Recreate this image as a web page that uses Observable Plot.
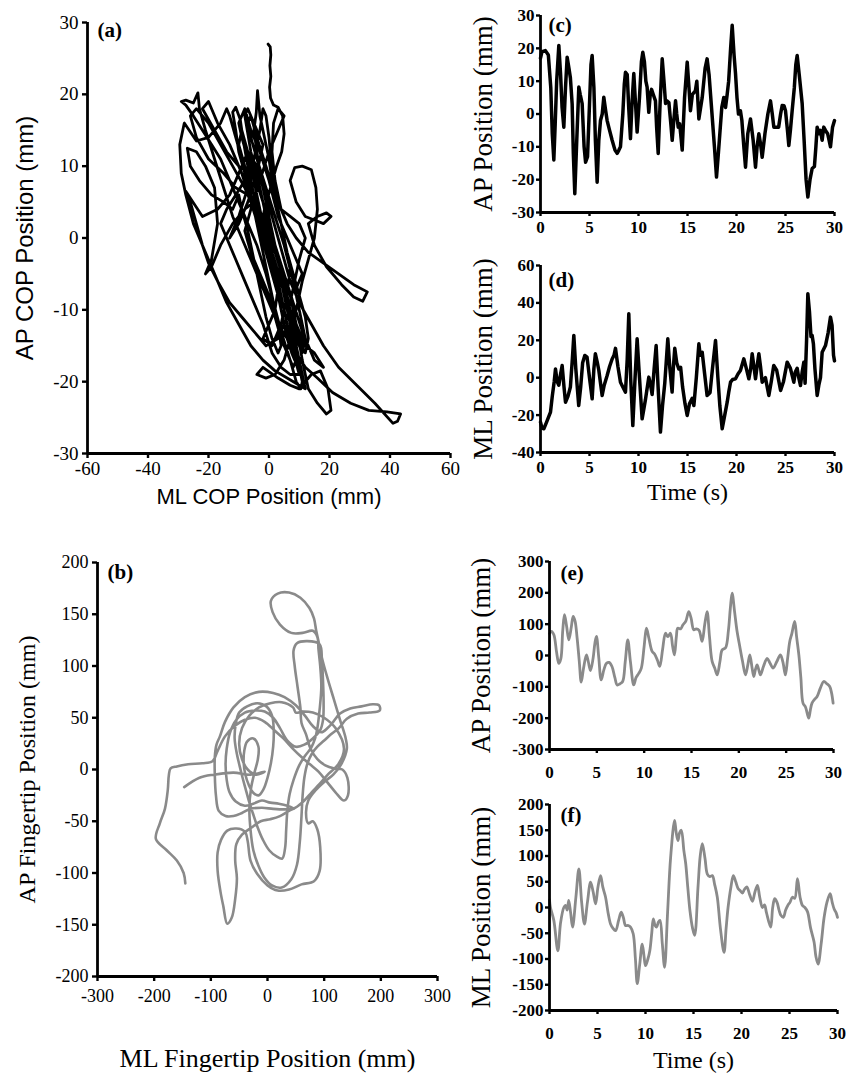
<!DOCTYPE html>
<html><head><meta charset="utf-8">
<script src="https://cdn.jsdelivr.net/npm/d3@7"></script>
<script src="https://cdn.jsdelivr.net/npm/@observablehq/plot@0.6"></script>
<style>
body{margin:0;background:#fff;}
#fig{position:relative;width:859px;height:1085px;background:#fff;overflow:hidden}
</style></head><body><div id="fig"></div>
<script>
// ---------- DATA ----------
// (a) COP trajectory [ML, AP] in mm
const copPath = [
[-0.3,27],[0.4,26.6],[0.6,25.5],[0.3,24],[0.6,22.5],[0.2,21],[0.5,19.5],[1.5,18.5],[3,18.2],[4.5,17],[5,14.5],[4.2,12],[2.5,10],[0.5,7],[-1.5,4],[-2.8,1],[-1,-2],[1,-5],[3,-8],[4.5,-11],[6,-14],[7.5,-16],[8.5,-17],
[7,-14],[5,-10],[2.5,-6],[0.5,-3],[-2,0],[-4,3],[-6,6],[-8,9],[-10,12],[-11,15],[-12,17.5],[-11,18.2],[-9.5,16.5],[-8.5,13.5],[-7,10],[-5,6],[-3,2],[0,-1],[2,-4],[4,-8],[6,-12],[8,-15],[10,-18],[11,-20],[10.5,-21],[9,-20],[7,-17],[4,-13],[1.5,-9],[-1,-5],[-4,-1],[-7,2],[-10,5],[-13,8],[-16,11],[-19,13],[-22,15],[-25,17],[-27.5,18.5],[-29,19],[-27.5,19.2],[-25,18.8],[-23.5,20.2],[-23,18],[-21,15],[-18,11],[-15,7],[-12,3],[-9,0],[-6,-3],[-3,-6],[0,-9],[3,-12],[6,-14],[9,-16],[12,-18],[16,-19.5],[21,-21.5],[27,-23],[33,-24],[39,-24.2],[43.5,-24.5],[42.5,-25.5],[41,-25.8],[35,-23],[29,-20.5],[23,-18],[18,-15],[14,-12],[10,-9],[7,-6],[5,-3],[3,0],[1,3],[-1,6],[-3,9],[-4,12],[-5,15],[-4.2,17.5],[-3.8,20.5],[-3,17],[-1.5,14],[0,11],[1,8],[3,5],[6,2],[9,0],[13,-2],[18,-3.5],[23,-5],[28,-6.5],[32.5,-7.5],[31,-8.8],[28,-8.2],[24,-6.5],[19,-4],[15,-1],[13,2],[16,3],[19,3.5],[20.5,3],[18,2],[15,2.5],[12,3],[9,5],[7,8],[8.5,9.8],[11,10],[14,9.5],[15.5,7],[16,4],[15,0],[13,-3],[11,-6],[9,-10],[7,-14],[5,-17],[2,-19],[-1,-19.5],[-4,-19],[-2,-18],[3,-19.5],[7,-20.5],[10,-21],[14,-19],[17,-18.5],[19.5,-21],[20.5,-24],[19,-24.5],[16,-23],[13,-21],[11,-17],[9,-12],[7,-8],[4,-4],[1,0],[-2,3],[-5,5],[-8,4],[-12,2],[-16,-1],[-19,-4],[-21,-5],[-19,-3],[-17,2],[-18,7],[-21,10],[-24,12],[-27,12.5],[-26,10],[-23,8],[-19,6],[-15,5],[-12,4],[-10,6],[-9,4],[-7,1],[-5,-3],[-3,-7],[-1,-11],[1,-14],[3,-16],[4,-15],[3,-12],[1,-8],[-1,-4],[-3,0],[-5,4],[-7,8],[-9,11],[-11,14],[-13,17],[-14,18],[-16,16],[-20,14],[-24,13.5],[-28,16],[-29.5,13],[-29,9],[-27.5,6],[-25,2],[-22,-1],[-18,-5],[-14,-9],[-10,-12],[-6,-15],[-2,-17],[2,-18.5],[6,-19.5],[10,-20.5],[12,-21],[10,-17],[8,-13],[6,-9],[4,-5],[2,-1],[0,3],[-2,7],[-4,10],[-7,12],[-10,9],[-13,6],[-17,4],[-22,3],[-27.5,6.5],[-26,5],[-24,2],[-22,-1],[-20,-3.5],[-17,-6],[-13,-9],[-9,-11],[-5,-13],[-1,-15],[3,-14],[6,-11],[8,-7],[10,-3],[12,0],[10,2],[7,3],[4,4],[2,8],[1,12],[1.5,16],[3,18],[5,17],
[3,15],[0,12],[-3,8],[-6,4],[-8,1],[-6,-2],[-3,-5],[0,-8],[2,-11],[4,-14],[6,-16],[8,-18],[9,-17],[8,-14],[6,-10],[4,-6],[1,-2],[-2,2],[-5,6],[-8,10],[-10,13],[-9,15],[-7,12],[-5,9],[-2,5],[1,1],[3,-3],[5,-7],[7,-11],[9,-14],[11,-16],[12,-14],[10,-10],[8,-6],[5,-1],[2,3],[-1,7],[-4,11],[-6,14],[-7,16],[-6,17],[-4,14],[-1,10],[2,6],[4,2],[6,-2],[8,-5],[10,-8],[12,-11],[13,-14],[12,-16],[10,-14],[7,-10],[5,-6],[2,-2],[-1,1],[-4,4],[-7,6],[-11,7],[-15,9],[-20,11],[-24,14],[-26,17],[-24,18],[-20,16],[-16,13],[-12,10],[-8,7],[-4,3],[0,-1],[3,-5],[6,-9],[9,-12],[12,-15],[15,-16],[18,-18],[15,-17],[11,-13],[8,-9],[5,-5],[2,-1],[-1,3],[-3,7],[-6,12],[-8,17],[-7,18],[-5,16],[-2,13],
[-4,9],[-7,5],[-10,2],[-13,0],[-10,3],[-7,7],[-10,10],[-14,12],[-18,15],[-22,18],[-20,19],[-17,16],[-13,13],[-9,9],[-6,5],[-3,1],[0,-3],[3,-7],[2,-10],[0,-12],[-2,-14],[1,-15],[4,-12],[6,-8],[7,-4],[5,0],[3,4],[1,9],[0,14],[-1,17],[-2,18],[-3,15],[-5,11],[-8,8],[-11,6],[-14,4],[-16,2],[-14,0],[-11,-3],[-8,-6],[-5,-9],[-2,-12],[1,-16],[4,-18],[7,-19],[10,-19],[8,-16],[5,-12],[3,-8],[1,-4],[-1,0],[-3,4],[-5,8],[-7,11],[-9,14],[-10,16],[-8,18],[-6,15],[-3,12],[0,8],[3,3],[6,0],[9,-3],[11,-5],[9,-7]
];
// (b) fingertip trajectory [ML, AP] in mm
const fingerPath = [
[-145,-110],[-148,-100],[-160,-88],[-178,-78],[-197,-67],[-190,-52],[-181,-38],[-176,-20],[-174,-5],[-171,1],[-160,3],[-140,5],[-115,6],[-97,8],[-88,18],[-75,32],[-58,42],[-40,48],[-22,50],[-5,46],[12,38],[28,30],[45,20],[60,12],[75,5],[90,-2],[105,-12],[120,-22],[135,-30],[142,-25],[141,-8],[132,0],[118,1],[102,4],[88,10],[76,20],[68,34],[60,45],[58,60],[53,80],[48,100],[46,115],[52,122],[70,124],[92,121],[96,105],[98,85],[99,65],[98,48],[93,38],[80,30],[65,24],[50,22],[35,28],[22,40],[10,50],[-5,56],[-22,57],[-40,55],[-55,48],[-66,36],[-72,20],[-74,5],[-72,-10],[-67,-22],[-56,-31],[-40,-35],[-25,-33],[-10,-30],[5,-32],[20,-33],[35,-35],[47,-38],[30,-38.5],[10,-38],[-10,-37],[-30,-38],[-45,-42],[-60,-45],[-74,-45],[-86,-40],[-91,-25],[-93,-5],[-93,12],[-90,24],[-84,32],[-75,46],[-60,60],[-40,70],[-15,75],[10,74],[30,70],[50,62],[66,52],[80,42],[95,36],[106,40],[116,46],[128,54],[146,59],[166,61],[186,63],[197,62],[198,57],[180,55],[160,54],[140,49],[126,40],[112,34],[100,28],[88,22],[78,15],[70,5],[65,-8],[62,-25],[60,-45],[57,-70],[52,-92],[42,-106],[25,-114],[8,-112],[-6,-104],[-16,-93],[-25,-78],[-30,-58],[-32,-38],[-29,-18],[-23,-3],[-17,10],[-16,22],[-25,30],[-36,27],[-41,18],[-42,6],[-39,-5],[-33,-15],[-26,-22],[-16,-25],[-7,-19],[0,-8],[6,6],[10,22],[11,38],[8,52],[-2,61],[-18,64],[-36,61],[-50,55],[-56,44],[-58,30],[-54,15],[-49,3],[-44,-8],[-39,-18],[-33,-30],[-26,-42],[-18,-55],[-8,-68],[3,-78],[16,-84],[26,-86],[31,-76],[33,-58],[35,-40],[39,-24],[46,-10],[56,4],[66,13],[77,21],[84,30],[88,40],[92,58],[95,80],[93,100],[90,116],[88,128],[80,134],[62,132],[42,132],[22,140],[9,152],[6,163],[18,170],[38,171],[58,166],[74,156],[82,146],[86,134],[90,124],[96,108],[106,88],[117,68],[128,48],[138,30],[140,20],[130,5],[116,-5],[100,-12],[85,-20],[72,-30],[68,-42],[72,-52],[80,-50],[88,-58],[93,-75],[92,-98],[82,-108],[60,-111],[38,-116],[18,-117],[0,-112],[-18,-101],[-30,-88],[-35,-69],[-40,-60],[-55,-57],[-71,-59],[-82,-68],[-88,-80],[-88,-98],[-83,-118],[-78,-132],[-71,-149],[-63,-143],[-57,-125],[-54,-105],[-57,-88],[-55,-72],[-45,-63],[-28,-56],[-12,-50],[5,-48],[22,-45],[38,-40],[52,-36],[65,-30],[78,-22],[92,-14],[108,-4],[125,5],[135,20],[120,40],[100,50],[80,55],[62,56],[50,55],[45,60],[25,65],[5,64],[-15,60],[-32,52],[-45,40],[-50,25],[-45,10],[-35,0],[-20,-5],[-5,-2],[-30,-5],[-60,-3],[-95,-5],[-120,-8],[-147,-17]
];
// (c) AP COP position vs time [s, mm]
const apCop = [[0,17],[0.15,19],[0.5,19.3],[0.8,18],[1.05,8],[1.2,-6],[1.36,-14],[1.5,-3],[1.65,10],[1.87,20.9],[2.05,12],[2.2,2],[2.38,-4],[2.55,8],[2.72,17.3],[2.9,14],[3.05,11],[3.23,3],[3.35,-12],[3.5,-24.3],[3.7,-8],[3.91,8.2],[4.05,6],[4.25,3.2],[4.45,-10],[4.6,-14.7],[4.8,-13],[5.0,3],[5.15,15],[5.27,17.8],[5.45,8],[5.6,-8],[5.78,-20.8],[5.95,-8],[6.12,-2],[6.3,0],[6.46,5.1],[6.65,1],[6.8,-2],[7.05,-5],[7.31,-8],[7.6,-11],[7.82,-12],[8.0,-11],[8.16,-10],[8.4,0],[8.55,9],[8.67,12.7],[8.85,12],[9.0,2],[9.18,-7.5],[9.35,4],[9.52,12.3],[9.7,3],[9.86,-5.5],[10.1,5],[10.3,16],[10.44,18.8],[10.6,16],[10.75,10],[10.88,8.2],[11.05,0.5],[11.2,6],[11.33,7.5],[11.5,6],[11.73,4],[11.85,-4],[12.01,-12],[12.2,3],[12.42,16.8],[12.6,10],[12.76,3.2],[12.9,4],[13.1,3.5],[13.3,-3],[13.44,-8],[13.6,-2],[13.78,4],[13.9,0],[14.05,-4],[14.2,-3],[14.3,-6],[14.46,-11],[14.7,5],[14.97,15.8],[15.15,8],[15.3,1],[15.5,6],[15.8,7],[15.95,10],[16.16,-1.5],[16.5,5],[16.8,14],[17.0,16.8],[17.2,12],[17.5,0],[17.75,-10],[17.96,-19.2],[18.15,-12],[18.3,-6],[18.5,2],[18.7,5],[18.88,2],[19.05,6],[19.2,10],[19.4,20],[19.56,27],[19.75,18],[19.9,12.3],[20.05,5],[20.2,0],[20.4,1],[20.55,-2],[20.75,-10],[20.92,-16.2],[21.15,-6],[21.43,-1.5],[21.7,-8],[21.94,-16.2],[22.1,-10],[22.28,-6],[22.45,-9],[22.62,-13.2],[22.9,-6],[23.2,0],[23.47,4],[23.65,0],[23.81,-4],[24.05,-4],[24.3,-4],[24.5,0],[24.66,2.6],[24.85,2.5],[25.0,1],[25.2,-5],[25.34,-9.6],[25.5,-5],[25.68,1],[25.9,8],[26.05,15],[26.19,17.8],[26.4,12],[26.7,3.2],[26.9,-8],[27.1,-20],[27.28,-25.3],[27.5,-20],[27.72,-16.6],[27.95,-16],[28.1,-10],[28.23,-4],[28.4,-6],[28.55,-5],[28.74,-8],[28.9,-4],[29.08,-5],[29.3,-6],[29.45,-8],[29.59,-10],[29.8,-4],[30,-2]];
// (d) ML COP position vs time
const mlCop = [[0,-23.8],[0.15,-27],[0.34,-27.3],[0.6,-24],[1.02,-18.4],[1.2,-10],[1.4,-2],[1.53,4.7],[1.7,-2],[1.87,-4],[2.05,2],[2.21,6.5],[2.4,-5],[2.55,-13.1],[2.8,-10],[3.05,-5],[3.25,10],[3.4,22.6],[3.6,5],[3.9,-14.9],[4.1,-5],[4.3,8],[4.52,11.9],[4.75,11],[5.0,0],[5.27,-11.3],[5.45,5],[5.6,12.8],[5.8,8],[5.95,4],[6.1,-2],[6.29,-9.5],[6.5,-4],[6.8,1.2],[7.05,6],[7.31,10],[7.5,12],[7.65,15.7],[7.9,6],[8.16,-2.4],[8.4,-5],[8.67,-7.7],[8.85,10],[9.01,34.2],[9.2,0],[9.42,-25.6],[9.65,0],[9.86,20.8],[10.1,0],[10.37,-22],[10.7,-12],[11.05,0.3],[11.2,-3],[11.39,-9],[11.6,5],[11.8,17.2],[12.0,-5],[12.24,-29.1],[12.45,-15],[12.68,-3],[12.85,10],[12.99,20.8],[13.2,5],[13.43,-7.7],[13.55,5],[13.7,15.7],[13.9,8],[14.11,4.7],[14.3,5.5],[14.5,-5],[14.75,-14],[14.97,-20.2],[15.2,-14],[15.48,-11],[15.65,-14.9],[15.9,0],[16.16,18.1],[16.3,12],[16.5,13.6],[16.75,2],[17.0,-9.5],[17.3,-8],[17.55,5],[17.86,19.9],[18.1,0],[18.3,-15],[18.54,-27.3],[18.8,-20],[19.05,-13.1],[19.2,-8],[19.39,-2.4],[19.6,-1],[19.9,-0.6],[20.15,2],[20.4,3.9],[20.75,10.1],[21.0,5],[21.26,-0.6],[21.45,5],[21.6,12.8],[21.8,5],[21.94,-0.6],[22.1,6],[22.28,12.8],[22.45,6],[22.62,-2.4],[22.95,0],[23.3,-9.5],[23.55,-2],[23.8,6.5],[24.1,4],[24.5,-6.8],[24.8,-2],[25.17,8.3],[25.5,5],[25.85,-2.4],[26.0,3],[26.19,5],[26.35,0],[26.53,-4.2],[26.7,3],[26.87,8.3],[27.0,-3],[27.15,20],[27.28,44.9],[27.45,35],[27.6,22],[27.72,22.6],[27.85,18],[28.0,5],[28.23,-9.5],[28.4,-4],[28.57,0],[28.74,13.6],[29.08,17.2],[29.35,24],[29.59,32.4],[29.75,28],[29.9,12],[30,9]];
// (e) AP fingertip position vs time
const apFinger = [[0,70],[0.2,77],[0.46,66],[0.75,10],[0.98,-25],[1.2,-10],[1.4,80],[1.58,130],[1.8,95],[2.04,50],[2.3,90],[2.5,125],[2.7,110],[2.92,55],[3.15,-20],[3.35,-85],[3.6,-40],[3.9,2],[4.1,-20],[4.33,-48],[4.6,-10],[4.8,40],[4.96,61],[5.2,-5],[5.46,-78],[5.75,-45],[6.02,-25],[6.3,-22],[6.6,-35],[6.9,-70],[7.15,-94],[7.45,-90],[7.73,-83],[8.0,-20],[8.27,50],[8.55,-20],[8.9,-94],[9.15,-70],[9.43,-57],[9.7,-40],[10.0,30],[10.24,87],[10.5,55],[10.84,13],[11.1,5],[11.4,-15],[11.65,-35],[11.95,20],[12.25,71],[12.5,60],[12.78,71],[13.0,30],[13.2,2],[13.4,60],[13.55,87],[13.85,85],[14.1,98],[14.4,110],[14.71,140],[14.95,120],[15.24,82],[15.5,85],[15.8,80],[16.12,45],[16.4,100],[16.65,140],[16.9,60],[17.18,-19],[17.45,-40],[17.71,-62],[18.0,-20],[18.24,18],[18.6,25],[18.9,80],[19.1,150],[19.29,199],[19.55,140],[19.8,80],[20.1,29],[20.4,-20],[20.7,-62],[20.95,-30],[21.16,2],[21.4,-40],[21.58,-67],[21.75,-45],[21.93,-30],[22.1,-45],[22.28,-62],[22.6,-35],[22.99,-9],[23.3,-25],[23.62,-40],[24.0,-20],[24.39,2],[24.65,-20],[24.92,-62],[25.15,-10],[25.38,45],[25.6,70],[25.9,109],[26.1,60],[26.34,2],[26.55,-70],[26.78,-152],[27.05,-165],[27.38,-200],[27.55,-175],[27.73,-152],[28.0,-140],[28.27,-131],[28.6,-105],[28.97,-83],[29.3,-90],[29.6,-99],[29.8,-120],[29.96,-152]];
// (f) ML fingertip position vs time
const mlFinger = [[0,15],[0.1,0],[0.45,-25],[0.87,-84],[1.15,-30],[1.49,0],[1.67,4],[1.84,-5],[2.0,14],[2.2,-10],[2.4,-38],[2.75,20],[3.06,75],[3.35,10],[3.64,-32],[3.95,10],[4.28,49],[4.55,30],[4.8,7],[5.05,40],[5.32,62],[5.55,40],[5.84,20],[6.1,-10],[6.36,-32],[6.6,-40],[6.88,-45],[7.2,-25],[7.47,-9],[7.7,-20],[7.92,-35],[8.2,-35],[8.44,-38],[8.72,-51],[8.95,-100],[9.14,-148],[9.4,-110],[9.66,-71],[9.85,-95],[10.0,-113],[10.25,-100],[10.45,-84],[10.65,-50],[10.81,-22],[11.0,-35],[11.16,-38],[11.35,-28],[11.51,-25],[11.75,-70],[11.99,-116],[12.3,-10],[12.62,98],[13.03,169],[13.2,145],[13.38,130],[13.55,145],[13.73,150],[14.0,110],[14.19,85],[14.4,40],[14.63,-6],[14.9,-40],[15.12,-54],[15.47,40],[15.7,100],[15.92,124],[16.2,95],[16.44,65],[16.7,60],[16.96,62],[17.2,45],[17.48,20],[17.8,-40],[18.18,-87],[18.4,-40],[18.6,0],[18.9,40],[19.15,62],[19.4,50],[19.64,37],[19.85,33],[20.09,28],[20.3,35],[20.55,40],[20.85,25],[21.14,12],[21.4,30],[21.66,43],[21.9,20],[22.18,0],[22.4,5],[22.6,-10],[23.04,-38],[23.25,0],[23.46,17],[23.7,10],[23.91,-5],[24.1,-15],[24.36,-19],[24.6,-5],[24.85,5],[25.05,10],[25.3,20],[25.55,18],[25.83,56],[26.1,20],[26.35,4],[26.6,0],[26.87,-8],[27.2,-40],[27.56,-67],[27.75,-95],[27.98,-110],[28.3,-70],[28.6,-20],[28.9,10],[29.23,27],[29.45,10],[29.65,-3],[29.85,-10],[30,-19]];

// tick values
const ticksA_x = [-60,-40,-20,0,20,40,60];
const ticksA_y = [-30,-20,-10,0,10,20,30];
const ticksB_x = [-300,-200,-100,0,100,200,300];
const ticksB_y = [-200,-150,-100,-50,0,50,100,150,200];
const ticksTime = [0,5,10,15,20,25,30];
const ticksC_y = [-30,-20,-10,0,10,20,30];
const ticksD_y = [-40,-20,0,20,40,60];
const ticksE_y = [-300,-200,-100,0,100,200,300];
const ticksF_y = [-200,-150,-100,-50,0,50,100,150,200];

// ---------- DRAWING ----------
const SERIF = "'Liberation Serif','Times New Roman',serif";
const SANS = "'Liberation Sans',Arial,sans-serif";
const fig = document.getElementById("fig");

function panel(c) {
  const tf = {fontSize: c.tickSize, fontFamily: SERIF, fontWeight: c.tickWeight, fill: "#000"};
  const x0 = c.xDomain[0], y0 = c.yDomain[0];
  const marks = [
    Plot.line(c.data, {x: d => d[0], y: d => d[1], stroke: c.color, strokeWidth: c.sw, curve: c.curve || "linear", strokeLinejoin: "round", strokeLinecap: "round"}),
    Plot.ruleX([x0], {stroke: "#000", strokeWidth: 2.8}),
    Plot.ruleY([y0], {stroke: "#000", strokeWidth: 2.8}),
    Plot.axisX(c.xTicks, {anchor: "bottom", tickSize: c.tick, strokeWidth: 2.4, stroke: "#000", tickFormat: () => "", label: null}),
    Plot.axisY(c.yTicks, {anchor: "left", tickSize: c.tick, strokeWidth: 2.4, stroke: "#000", tickFormat: () => "", label: null}),
    Plot.text(c.xTicks, {x: d => d, y: () => y0, text: d => String(d), dy: c.xLabDy, lineAnchor: "middle", textAnchor: "middle", ...tf}),
    Plot.text(c.yTicks, {x: () => x0, y: d => d, text: d => String(d), dx: c.yLabDx, lineAnchor: "middle", textAnchor: "end", ...tf}),
    Plot.text([c.letter], {text: d => d, frameAnchor: "top-left", dx: c.letterDx, dy: c.letterDy, textAnchor: "start", lineAnchor: "middle", fontWeight: "bold", fontSize: c.letterSize, fontFamily: SERIF, fill: "#000"}),
    Plot.text([c.yLabel], {text: d => d, frameAnchor: "left", dx: c.yLabelDx, rotate: -90, textAnchor: "middle", lineAnchor: "middle", fontSize: c.yLabelSize, fontFamily: c.yLabelFont, fontWeight: "normal", fill: "#000"})
  ];
  if (c.xLabel) marks.push(Plot.text([c.xLabel], {text: d => d, frameAnchor: "bottom", dy: c.xLabelDy, textAnchor: "middle", lineAnchor: "middle", fontSize: c.xLabelSize, fontFamily: c.xLabelFont, fontWeight: "normal", fill: "#000"}));
  const svg = Plot.plot({
    width: c.width, height: c.height,
    marginLeft: c.m[0], marginTop: c.m[1], marginRight: c.m[2], marginBottom: c.m[3],
    x: {domain: c.xDomain}, y: {domain: c.yDomain},
    style: {fontFamily: SERIF, color: "#000", background: "transparent", overflow: "visible"},
    marks
  });
  svg.style.position = "absolute";
  svg.style.left = c.left + "px";
  svg.style.top = c.top + "px";
  fig.appendChild(svg);
}

// (a)
panel({left: 0, top: 0, width: 470, height: 520, m: [87, 22, 20, 67],
  xDomain: [-60, 60], yDomain: [-30, 30], xTicks: ticksA_x, yTicks: ticksA_y,
  data: copPath, color: "#000", sw: 2.8, tick: 5, xLabDy: 15, yLabDx: -9,
  letter: "(a)", letterDx: 10, letterDy: 8, letterSize: 21,
  yLabel: "AP COP Position (mm)", yLabelDx: -62, yLabelSize: 24, yLabelFont: SANS,
  xLabel: "ML COP Position (mm)", xLabelDy: 43, xLabelSize: 22, xLabelFont: SANS,
  tickSize: 19, tickWeight: "normal"});
// (c)
panel({left: 460, top: 0, width: 399, height: 250, m: [80, 15, 25, 38],
  xDomain: [0, 30], yDomain: [-30, 30], xTicks: ticksTime, yTicks: ticksC_y,
  data: apCop, color: "#000", sw: 3.5, tick: 4, xLabDy: 15, yLabDx: -6,
  letter: "(c)", letterDx: 8, letterDy: 10, letterSize: 21,
  yLabel: "AP Position (mm)", yLabelDx: -57, yLabelSize: 27, yLabelFont: SERIF,
  tickSize: 17, tickWeight: "bold"});
// (d)
panel({left: 460, top: 250, width: 399, height: 250, m: [80, 15, 25, 48],
  xDomain: [0, 30], yDomain: [-40, 60], xTicks: ticksTime, yTicks: ticksD_y,
  data: mlCop, color: "#000", sw: 3.5, tick: 4, xLabDy: 15, yLabDx: -6,
  letter: "(d)", letterDx: 8, letterDy: 15, letterSize: 21,
  yLabel: "ML Position (mm)", yLabelDx: -57, yLabelSize: 27, yLabelFont: SERIF,
  xLabel: "Time (s)", xLabelDy: 40, xLabelSize: 24, xLabelFont: SERIF,
  tickSize: 17, tickWeight: "bold"});
// (b)
panel({left: 0, top: 520, width: 470, height: 565, m: [97, 42, 33, 109],
  xDomain: [-300, 300], yDomain: [-200, 200], xTicks: ticksB_x, yTicks: ticksB_y,
  data: fingerPath, color: "#8a8a8a", sw: 2.6, curve: "catmull-rom", tick: 5, xLabDy: 20, yLabDx: -9,
  letter: "(b)", letterDx: 10, letterDy: 10, letterSize: 21,
  yLabel: "AP Fingertip Position (mm)", yLabelDx: -70, yLabelSize: 24, yLabelFont: SERIF,
  xLabel: "ML Fingertip Position (mm)", xLabelDy: 82, xLabelSize: 26, xLabelFont: SERIF,
  tickSize: 18, tickWeight: "normal"});
// (e)
panel({left: 460, top: 520, width: 399, height: 280, m: [89, 41, 26, 51],
  xDomain: [0, 30], yDomain: [-300, 300], xTicks: ticksTime, yTicks: ticksE_y,
  data: apFinger, color: "#8a8a8a", sw: 2.8, curve: "catmull-rom", tick: 4, xLabDy: 23, yLabDx: -6,
  letter: "(e)", letterDx: 11, letterDy: 12, letterSize: 21,
  yLabel: "AP Position (mm)", yLabelDx: -68, yLabelSize: 27, yLabelFont: SERIF,
  tickSize: 17, tickWeight: "bold"});
// (f)
panel({left: 460, top: 790, width: 399, height: 295, m: [89, 14, 22, 75],
  xDomain: [0, 30], yDomain: [-200, 200], xTicks: ticksTime, yTicks: ticksF_y,
  data: mlFinger, color: "#8a8a8a", sw: 2.8, curve: "catmull-rom", tick: 4, xLabDy: 23, yLabDx: -6,
  letter: "(f)", letterDx: 11, letterDy: 11, letterSize: 21,
  yLabel: "ML Position (mm)", yLabelDx: -68, yLabelSize: 27, yLabelFont: SERIF,
  xLabel: "Time (s)", xLabelDy: 50, xLabelSize: 24, xLabelFont: SERIF,
  tickSize: 17, tickWeight: "bold"});
</script>
</body></html>
